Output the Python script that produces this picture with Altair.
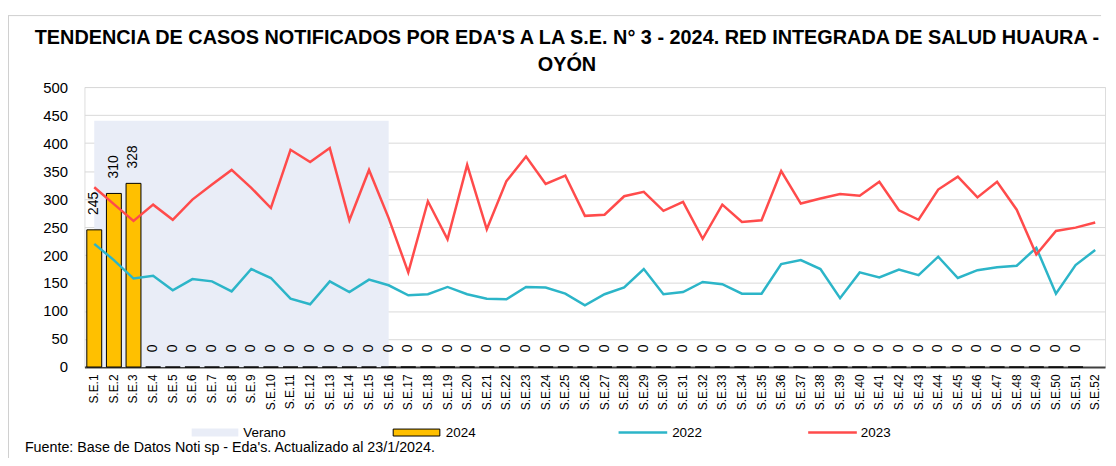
import altair as alt
import pandas as pd

FONT = "Liberation Sans, Arial, sans-serif"

semanas = [f"S.E.{i}" for i in range(1, 53)]

casos_2022 = [220, 191, 158, 163, 137, 157, 153, 135, 175, 159,
              122, 112, 153, 134, 156, 146, 128, 130, 143, 130,
              122, 121, 143, 142, 131, 110, 130, 142, 175, 130,
              134, 152, 148, 131, 131, 184, 191, 175, 123, 169,
              160, 174, 164, 197, 159, 173, 178, 181, 213, 131,
              182, 209]

casos_2023 = [321, 291, 261, 290, 263, 299, 326, 352, 320, 284,
              388, 366, 391, 262, 352, 266, 169, 296, 228, 361,
              246, 332, 376, 327, 342, 270, 272, 305, 313, 279,
              295, 229, 290, 259, 262, 350, 292, 301, 309, 306,
              331, 280, 263, 317, 340, 303, 331, 281, 201, 243,
              249, 258]

casos_2024 = [245, 310, 328, 0, 0, 0, 0, 0, 0, 0,
              0, 0, 0, 0, 0, 0, 0, 0, 0, 0,
              0, 0, 0, 0, 0, 0, 0, 0, 0, 0,
              0, 0, 0, 0, 0, 0, 0, 0, 0, 0,
              0, 0, 0, 0, 0, 0, 0, 0, 0, 0,
              0, None]

verano = [440] * 16 + [None] * 36

titulo = ["TENDENCIA DE CASOS NOTIFICADOS POR EDA'S A LA S.E. N° 3 - 2024. RED INTEGRADA DE SALUD HUAURA -",
          "OYÓN"]
leyenda = ["Verano", "2024", "2022", "2023"]
fuente = "Fuente: Base de Datos Noti  sp - Eda's. Actualizado al 23/1/2024."

df = pd.DataFrame({"semana": semanas, "c2022": casos_2022, "c2023": casos_2023,
                   "c2024": casos_2024, "verano": verano})

W, H = 1028, 282

x_enc = alt.X("semana:N", sort=semanas,
              scale=alt.Scale(paddingInner=0.24, paddingOuter=0.12),
              axis=alt.Axis(title=None, labelAngle=270, labelFontSize=12, labelFont=FONT,
                            labelColor="black", labelPadding=7, ticks=False,
                            domainColor="#404040", domainWidth=2, grid=False))
y_axis = alt.Axis(title=None, values=list(range(0, 501, 50)), grid=True, gridColor="#d9d9d9",
                  gridWidth=1, domain=False, ticks=False, labelFontSize=15, labelFont=FONT,
                  labelColor="black", labelPadding=17)
y_scale = alt.Scale(domain=[0, 500], nice=False)

base = alt.Chart(df).encode(x=x_enc)

area = base.mark_area(color="#E9EDF7").encode(
    y=alt.Y("verano:Q", scale=y_scale, axis=y_axis))
bars = base.mark_bar(color="#FFC000", stroke="black", strokeWidth=1).encode(
    y=alt.Y("c2024:Q", scale=y_scale, axis=y_axis))
labels = base.mark_text(angle=270, align="left", baseline="middle", dx=15, fontSize=14,
                        font=FONT, color="black").encode(
    y=alt.Y("c2024:Q", scale=y_scale, axis=y_axis), text=alt.Text("c2024:Q"))
line22 = base.mark_line(color="#2CB5C8", strokeWidth=2.5).encode(
    y=alt.Y("c2022:Q", scale=y_scale, axis=y_axis))
line23 = base.mark_line(color="#FF4B4B", strokeWidth=2.5).encode(
    y=alt.Y("c2023:Q", scale=y_scale, axis=y_axis))

one = pd.DataFrame({"k": [0]})

leg_y = 348
LEG_FS = 13.5
deco_layers = [
    alt.Chart(one).mark_text(align="center", baseline="alphabetic", fontSize=20, font=FONT,
                             fontWeight="bold", color="black", lineHeight=27,
                             text=titulo).encode(x=alt.value(486), y=alt.value(-43)),
    alt.Chart(one).mark_rect(color="#E9EDF7").encode(
        x=alt.value(108), x2=alt.value(155), y=alt.value(leg_y - 4), y2=alt.value(leg_y + 4)),
    alt.Chart(one).mark_text(align="left", baseline="middle", fontSize=LEG_FS, font=FONT, color="black",
                             text=leyenda[0]).encode(x=alt.value(160), y=alt.value(leg_y)),
    alt.Chart(one).mark_rect(color="#FFC000", stroke="black", strokeWidth=1).encode(
        x=alt.value(311), x2=alt.value(358), y=alt.value(leg_y - 3.5), y2=alt.value(leg_y + 3.5)),
    alt.Chart(one).mark_text(align="left", baseline="middle", fontSize=LEG_FS, font=FONT, color="black",
                             text=leyenda[1]).encode(x=alt.value(364), y=alt.value(leg_y)),
    alt.Chart(one).mark_rule(color="#2CB5C8", strokeWidth=2.5).encode(
        x=alt.value(538), x2=alt.value(587), y=alt.value(leg_y)),
    alt.Chart(one).mark_text(align="left", baseline="middle", fontSize=LEG_FS, font=FONT, color="black",
                             text=leyenda[2]).encode(x=alt.value(592), y=alt.value(leg_y)),
    alt.Chart(one).mark_rule(color="#FF4B4B", strokeWidth=2.5).encode(
        x=alt.value(729), x2=alt.value(778), y=alt.value(leg_y)),
    alt.Chart(one).mark_text(align="left", baseline="middle", fontSize=LEG_FS, font=FONT, color="black",
                             text=leyenda[3]).encode(x=alt.value(782), y=alt.value(leg_y)),
    alt.Chart(one).mark_text(align="left", baseline="middle", fontSize=14.4, font=FONT, color="black",
                             text=fuente).encode(x=alt.value(-60), y=alt.value(364)),
    alt.Chart(one).mark_rule(color="#d0d0d0", strokeWidth=1).encode(
        x=alt.value(-77), x2=alt.value(1024), y=alt.value(-72)),
    alt.Chart(one).mark_rule(color="#d0d0d0", strokeWidth=1).encode(
        x=alt.value(-76.5), y=alt.value(-72), y2=alt.value(400)),
]

chart = alt.layer(area, bars, labels, line22, line23, *deco_layers).properties(
    width=W, height=H,
    autosize=alt.AutoSizeParams(type="none"),
    padding={"left": 77, "top": 78, "right": 3, "bottom": 90},
).configure_view(stroke=None).configure(background="white")

chart.save("out.html", embed_options={"renderer": "svg", "actions": False})
